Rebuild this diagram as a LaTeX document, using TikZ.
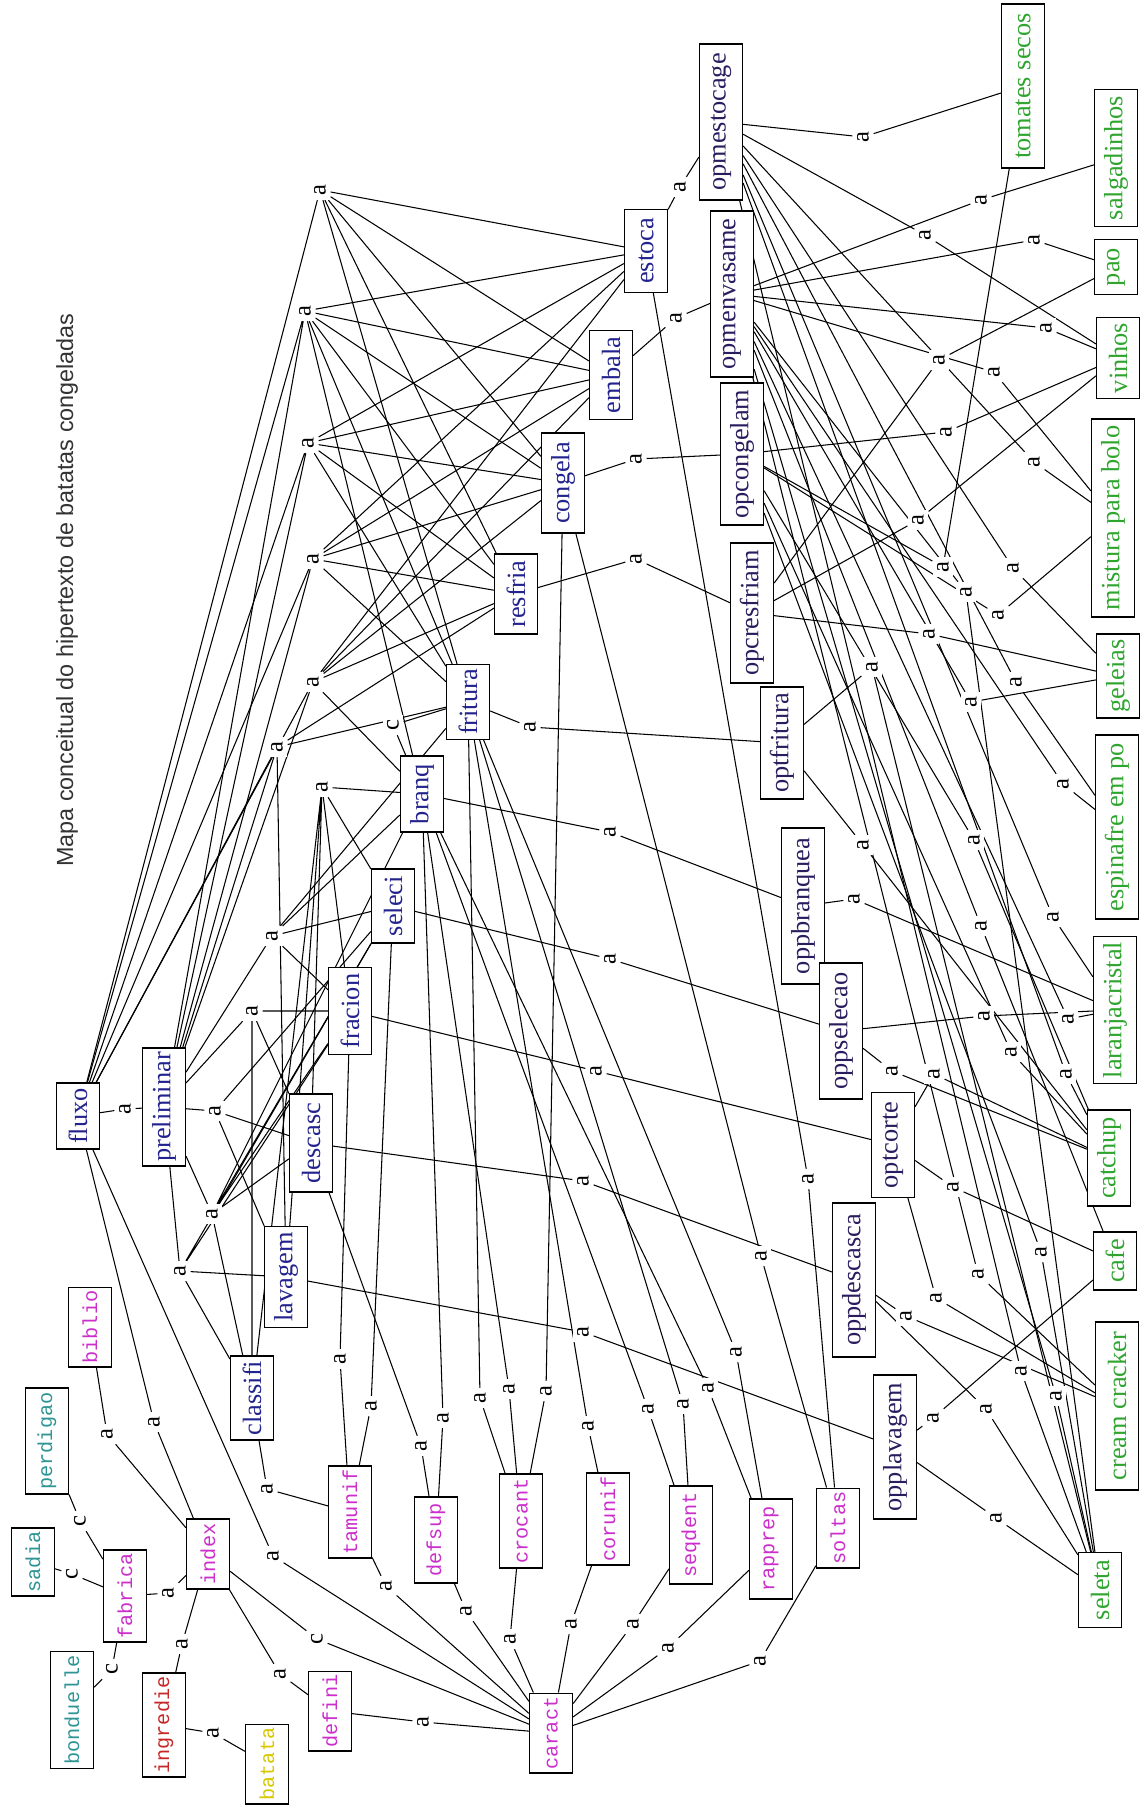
\documentclass[tikz,border=0pt]{standalone}
\usepackage{fontspec}
\setmainfont{Liberation Serif}
\setsansfont{Liberation Sans}
\setmonofont{Liberation Mono}
\usetikzlibrary{backgrounds}
\definecolor{procblue}{HTML}{23238E}
\definecolor{opnavy}{HTML}{2A1C5E}
\definecolor{charpink}{HTML}{CC2ECC}
\definecolor{brandteal}{HTML}{2E9494}
\definecolor{ingredred}{HTML}{C62828}
\definecolor{batyellow}{HTML}{D8C800}
\definecolor{prodgreen}{HTML}{2FA52F}
\tikzset{
    box/.style={rectangle, draw=black, line width=0.7pt, fill=white, rotate=90, minimum height=0.86cm, inner xsep=2pt, inner ysep=1pt, font=\fontsize{15}{17}\selectfont},
    procbox/.style={box, text=procblue},
    opbox/.style={box, text=opnavy},
    prodbox/.style={box, text=prodgreen},
    charbox/.style={box, text=charpink, font=\ttfamily\fontsize{11.5}{13}\selectfont},
    brandbox/.style={charbox, text=brandteal},
    redbox/.style={charbox, text=ingredred},
    yellowbox/.style={charbox, text=batyellow},
    lbl/.style={rotate=90, fill=white, inner sep=2.5pt, font=\fontsize{14}{16}\selectfont},
    link/.style={line width=0.6pt, draw=black}
}

\begin{document}
\begin{tikzpicture}[x=0.02cm, y=-0.02cm]
    \useasboundingbox (0,0) rectangle (1148,1809);
    \node[rotate=90, font=\sffamily\fontsize{13.3}{16}\selectfont, text=black!80] (title) at (67,590) {Mapa conceitual do hipertexto de batatas congeladas};

    % left side
    \node[procbox, minimum width=1.32cm] (fluxo) at (78,1116) {fluxo};
    \node[procbox, minimum width=2.36cm] (prelim) at (164,1107) {preliminar};
    \node[charbox, minimum width=1.44cm] (biblio) at (90,1327) {biblio};
    \node[brandbox, minimum width=2.12cm] (perdigao) at (47,1441) {perdigao};
    \node[brandbox, minimum width=1.36cm] (sadia) at (33,1562) {sadia};
    \node[brandbox, minimum width=2.34cm] (bonduelle) at (72,1710) {bonduelle};
    \node[charbox, minimum width=1.74cm] (fabrica) at (125,1596) {fabrica};
    \node[charbox, minimum width=1.40cm] (index) at (208,1554) {index};
    \node[redbox, minimum width=1.92cm] (ingredie) at (164,1725) {ingredie};
    \node[yellowbox, minimum width=1.58cm] (batata) at (267,1764) {batata};
    \node[charbox, minimum width=1.40cm] (defini) at (330,1711) {defini};

    % process steps
    \node[procbox, minimum width=1.68cm] (classifi) at (252,1398) {classifi};
    \node[procbox, minimum width=2.02cm] (lavagem) at (286,1277) {lavagem};
    \node[procbox, minimum width=1.96cm] (descasc) at (311,1143) {descasc};
    \node[procbox, minimum width=1.74cm] (fracion) at (350,1011) {fracion};
    \node[procbox, minimum width=1.48cm] (seleci) at (393,906) {seleci};
    \node[procbox, minimum width=1.52cm] (branq) at (422,794) {branq};
    \node[procbox, minimum width=1.50cm] (fritura) at (468,702) {fritura};
    \node[procbox, minimum width=1.60cm] (resfria) at (516,594) {resfria};
    \node[procbox, minimum width=2.00cm] (congela) at (563,483) {congela};
    \node[procbox, minimum width=1.78cm] (embala) at (611,375) {embala};
    \node[procbox, minimum width=1.66cm] (estoca) at (646,251) {estoca};

    % characteristics
    \node[charbox, minimum width=1.82cm] (tamunif) at (350,1512) {tamunif};
    \node[charbox, minimum width=1.72cm] (defsup) at (436,1540) {defsup};
    \node[charbox, minimum width=1.88cm] (crocant) at (521,1521) {crocant};
    \node[charbox, minimum width=1.74cm] (corunif) at (608,1519) {corunif};
    \node[charbox, minimum width=1.96cm] (seqdent) at (691,1535) {seqdent};
    \node[charbox, minimum width=2.00cm] (rapprep) at (771,1549) {rapprep};
    \node[charbox, minimum width=1.50cm] (soltas) at (838,1528) {soltas};
    \node[charbox, minimum width=1.58cm] (caract) at (551,1733) {caract};

    % operations
    \node[opbox, minimum width=3.12cm] (opmestoc) at (721,122) {opmestocage};
    \node[opbox, minimum width=3.32cm] (opmenvas) at (732,294) {opmenvasame};
    \node[opbox, minimum width=2.84cm] (opcongel) at (742,454) {opcongelam};
    \node[opbox, minimum width=2.80cm] (opcresf) at (752,613) {opcresfriam};
    \node[opbox, minimum width=2.24cm] (optfrit) at (782,743) {optfritura};
    \node[opbox, minimum width=3.12cm] (oppbranq) at (803,906) {oppbranquea};
    \node[opbox, minimum width=2.72cm] (oppselec) at (841,1031) {oppselecao};
    \node[opbox, minimum width=2.10cm] (optcorte) at (893,1145) {optcorte};
    \node[opbox, minimum width=3.08cm] (oppdesc) at (854,1280) {oppdescasca};
    \node[opbox, minimum width=2.88cm] (opplav) at (895,1447) {opplavagem};

    % products
    \node[prodbox, minimum width=3.28cm] (tomates) at (1023,86) {tomates secos};
    \node[prodbox, minimum width=2.74cm] (salgad) at (1116,158) {salgadinhos};
    \node[prodbox, minimum width=1.10cm] (pao) at (1116,267) {pao};
    \node[prodbox, minimum width=1.62cm] (vinhos) at (1118,358) {vinhos};
    \node[prodbox, minimum width=3.96cm] (mistura) at (1113,518) {mistura para bolo};
    \node[prodbox, minimum width=1.68cm] (geleias) at (1118,676) {geleias};
    \node[prodbox, minimum width=3.68cm] (espinafre) at (1117,827) {espinafre em po};
    \node[prodbox, minimum width=2.94cm] (laranja) at (1115,1010) {laranjacristal};
    \node[prodbox, minimum width=1.92cm] (catchup) at (1109,1158) {catchup};
    \node[prodbox, minimum width=1.16cm] (cafe) at (1115,1261) {cafe};
    \node[prodbox, minimum width=3.36cm] (cream) at (1117,1406) {cream cracker};
    \node[prodbox, minimum width=1.50cm] (seleta) at (1100,1590) {seleta};

    % link labels
    \node[lbl] (a1) at (320,190) {a};
    \node[lbl] (a2) at (305,311) {a};
    \node[lbl] (a3) at (308,443) {a};
    \node[lbl] (a4) at (313,559) {a};
    \node[lbl] (a5) at (313,682) {a};
    \node[lbl] (a6) at (277,747) {a};
    \node[lbl] (a7) at (322,787) {a};
    \node[lbl] (a8) at (125,1109) {a};
    \node[lbl] (a9) at (215,1111) {a};
    \node[lbl] (a10) at (272,936) {a};
    \node[lbl] (a11) at (252,1011) {a};
    \node[lbl] (a12) at (212,1214) {a};
    \node[lbl] (a13) at (180,1271) {a};
    \node[lbl] (a14) at (107,1434) {a};
    \node[lbl] (a15) at (154,1422) {a};
    \node[lbl] (c1) at (80,1521) {c};
    \node[lbl] (c2) at (72,1574) {c};
    \node[lbl] (c3) at (112,1669) {c};
    \node[lbl] (a19) at (168,1593) {a};
    \node[lbl] (a20) at (182,1644) {a};
    \node[lbl] (a21) at (213,1733) {a};
    \node[lbl] (a22) at (267,1489) {a};
    \node[lbl] (a23) at (273,1556) {a};
    \node[lbl] (c4) at (317,1639) {c};
    \node[lbl] (a25) at (280,1674) {a};
    \node[lbl] (a26) at (340,1359) {a};
    \node[lbl] (a27) at (371,1406) {a};
    \node[lbl] (a28) at (421,1446) {a};
    \node[lbl] (a29) at (443,1418) {a};
    \node[lbl] (a30) at (480,1398) {a};
    \node[lbl] (a31) at (509,1389) {a};
    \node[lbl] (a32) at (546,1391) {a};
    \node[lbl] (a33) at (588,1426) {a};
    \node[lbl] (a34) at (648,1409) {a};
    \node[lbl] (a35) at (683,1404) {a};
    \node[lbl] (a36) at (708,1388) {a};
    \node[lbl] (a37) at (386,1586) {a};
    \node[lbl] (a38) at (466,1611) {a};
    \node[lbl] (a39) at (510,1639) {a};
    \node[lbl] (a40) at (571,1624) {a};
    \node[lbl] (a41) at (633,1624) {a};
    \node[lbl] (a42) at (668,1648) {a};
    \node[lbl] (a43) at (760,1661) {a};
    \node[lbl] (a44) at (423,1722) {a};
    \node[lbl] (a45) at (933,1418) {a};
    \node[lbl] (a46) at (986,1409) {a};
    \node[lbl] (a47) at (1021,1371) {a};
    \node[lbl] (a48) at (1056,1396) {a};
    \node[lbl] (a49) at (996,1518) {a};
    \node[lbl] (a50) at (808,1179) {a};
    \node[lbl] (a51) at (892,1071) {a};
    \node[lbl] (a52) at (934,1074) {a};
    \node[lbl] (a53) at (953,1187) {a};
    \node[lbl] (a54) at (906,1316) {a};
    \node[lbl] (a55) at (936,1298) {a};
    \node[lbl] (a56) at (978,1274) {a};
    \node[lbl] (a57) at (1041,1252) {a};
    \node[lbl] (a58) at (984,1016) {a};
    \node[lbl] (a59) at (1011,1052) {a};
    \node[lbl] (a60) at (1068,1019) {a};
    \node[lbl] (a61) at (1066,1074) {a};
    \node[lbl] (a62) at (1053,917) {a};
    \node[lbl] (a63) at (981,926) {a};
    \node[lbl] (a64) at (1034,462) {a};
    \node[lbl] (a65) at (918,520) {a};
    \node[lbl] (a66) at (943,567) {a};
    \node[lbl] (a67) at (1013,568) {a};
    \node[lbl] (a68) at (966,592) {a};
    \node[lbl] (a69) at (998,615) {a};
    \node[lbl] (a70) at (929,634) {a};
    \node[lbl] (a71) at (872,667) {a};
    \node[lbl] (a72) at (971,702) {a};
    \node[lbl] (a73) at (1016,682) {a};
    \node[lbl] (a74) at (1063,784) {a};
    \node[lbl] (a75) at (863,845) {a};
    \node[lbl] (a76) at (974,840) {a};
    \node[lbl] (a77) at (854,899) {a};
    \node[lbl] (a78) at (863,137) {a};
    \node[lbl] (a79) at (981,200) {a};
    \node[lbl] (a80) at (925,235) {a};
    \node[lbl] (a81) at (1034,240) {a};
    \node[lbl] (a82) at (1046,328) {a};
    \node[lbl] (a83) at (939,360) {a};
    \node[lbl] (a84) at (994,372) {a};
    \node[lbl] (a85) at (946,432) {a};
    \node[lbl] (a86) at (680,187) {a};
    \node[lbl] (a87) at (676,318) {a};
    \node[lbl] (a88) at (636,459) {a};
    \node[lbl] (a89) at (636,559) {a};
    \node[lbl] (a90) at (530,727) {a};
    \node[lbl] (a91) at (610,832) {a};
    \node[lbl] (c5) at (393,725) {c};
    \node[lbl] (a93) at (610,959) {a};
    \node[lbl] (a94) at (596,1071) {a};
    \node[lbl] (a95) at (583,1181) {a};
    \node[lbl] (a96) at (583,1332) {a};
    \node[lbl] (a97) at (761,1256) {a};
    \node[lbl] (a98) at (736,1352) {a};

    \begin{scope}[on background layer]
        % fluxo and preliminar to the steps
        \draw[link] (fluxo) -- (a1) (a1) -- (estoca) (a1) -- (embala) (a1) -- (congela) (a1) -- (resfria) (a1) -- (fritura);
        \draw[link] (fluxo) -- (a2) (prelim) -- (a2) (a2) -- (estoca) (a2) -- (embala) (a2) -- (congela) (a2) -- (resfria) (a2) -- (fritura) (a2) -- (branq);
        \draw[link] (fluxo) -- (a3) (prelim) -- (a3) (a3) -- (estoca) (a3) -- (embala) (a3) -- (congela) (a3) -- (resfria) (a3) -- (fritura);
        \draw[link] (fluxo) -- (a4) (prelim) -- (a4) (a4) -- (estoca) (a4) -- (embala) (a4) -- (congela) (a4) -- (resfria) (a4) -- (fritura);
        \draw[link] (fluxo) -- (a5) (prelim) -- (a5) (a5) -- (estoca) (a5) -- (embala) (a5) -- (congela) (a5) -- (resfria) (a5) -- (branq);
        \draw[link] (fluxo) -- (a6) (prelim) -- (a6) (lavagem) -- (a6) (a6) -- (fritura) (a6) -- (resfria);
        \draw[link] (classifi) -- (a7) (lavagem) -- (a7) (descasc) -- (a7) (fracion) -- (a7) (seleci) -- (a7) (a7) -- (branq);
        \draw[link] (fluxo) -- (a8) -- (prelim);
        \draw[link] (prelim) -- (a9) (a9) -- (descasc) (a9) -- (lavagem) (a9) -- (seleci);
        \draw[link] (prelim) -- (a10) (a10) -- (fracion) (a10) -- (seleci) (a10) -- (branq) (a10) -- (fritura);
        \draw[link] (prelim) -- (a11) (a11) -- (classifi) (a11) -- (fracion) (a11) -- (descasc);
        \draw[link] (prelim) -- (a12) (a12) -- (fracion) (a12) -- (seleci) (a12) -- (branq) (a12) -- (descasc) (a12) -- (classifi);
        \draw[link] (prelim) -- (a13) (a13) -- (lavagem) (a13) -- (classifi) (a13) -- (fracion) (a13) -- (seleci);
        % index and brands
        \draw[link] (biblio) -- (a14) -- (index);
        \draw[link] (fluxo) -- (a15) -- (index);
        \draw[link] (perdigao) -- (c1) -- (fabrica);
        \draw[link] (sadia) -- (c2) -- (fabrica);
        \draw[link] (bonduelle) -- (c3) -- (fabrica);
        \draw[link] (fabrica) -- (a19) -- (index);
        \draw[link] (index) -- (a20) -- (ingredie);
        \draw[link] (ingredie) -- (a21) -- (batata);
        \draw[link] (index) -- (a25) -- (defini);
        \draw[link] (index) -- (c4) -- (caract);
        \draw[link] (fluxo) -- (a23) -- (caract);
        % steps to characteristics
        \draw[link] (classifi) -- (a22) -- (tamunif);
        \draw[link] (fracion) -- (a26) -- (tamunif);
        \draw[link] (seleci) -- (a27) -- (tamunif);
        \draw[link] (descasc) -- (a28) -- (defsup);
        \draw[link] (branq) -- (a29) -- (defsup);
        \draw[link] (fritura) -- (a30) -- (crocant);
        \draw[link] (branq) -- (a31) -- (crocant);
        \draw[link] (congela) -- (a32) -- (crocant);
        \draw[link] (fritura) -- (a33) -- (corunif);
        \draw[link] (branq) -- (a34) -- (seqdent);
        \draw[link] (fritura) -- (a35) -- (seqdent);
        \draw[link] (branq) -- (a36) -- (rapprep);
        \draw[link] (fritura) -- (a98) -- (rapprep);
        \draw[link] (congela) -- (a97) -- (soltas);
        \draw[link] (estoca) -- (a50) -- (soltas);
        \draw[link] (branq) -- (c5) -- (fritura);
        % characteristics to caract
        \draw[link] (tamunif) -- (a37) -- (caract);
        \draw[link] (defsup) -- (a38) -- (caract);
        \draw[link] (crocant) -- (a39) -- (caract);
        \draw[link] (corunif) -- (a40) -- (caract);
        \draw[link] (seqdent) -- (a41) -- (caract);
        \draw[link] (rapprep) -- (a42) -- (caract);
        \draw[link] (soltas) -- (a43) -- (caract);
        \draw[link] (defini) -- (a44) -- (caract);
        % steps to operations
        \draw[link] (estoca) -- (a86) -- (opmestoc);
        \draw[link] (embala) -- (a87) -- (opmenvas);
        \draw[link] (congela) -- (a88) -- (opcongel);
        \draw[link] (resfria) -- (a89) -- (opcresf);
        \draw[link] (fritura) -- (a90) -- (optfrit);
        \draw[link] (branq) -- (a91) -- (oppbranq);
        \draw[link] (seleci) -- (a93) -- (oppselec);
        \draw[link] (fracion) -- (a94) -- (optcorte);
        \draw[link] (descasc) -- (a95) -- (oppdesc);
        \draw[link] (lavagem) -- (a96) -- (opplav);
        % operations to products
        \draw[link] (opmestoc) -- (a78) -- (tomates);
        \draw[link] (opmenvas) -- (a79) -- (salgad);
        \draw[link] (opmestoc) -- (a80) -- (vinhos);
        \draw[link] (opmenvas) -- (a81) -- (pao);
        \draw[link] (opmenvas) -- (a82) -- (vinhos);
        \draw[link] (opcresf) -- (a83) -- (pao);
        \draw[link] (opmenvas) -- (a84) -- (mistura);
        \draw[link] (opcongel) -- (a85) -- (vinhos);
        \draw[link] (opmestoc) -- (a64) -- (mistura);
        \draw[link] (opcresf) -- (a65) -- (vinhos);
        \draw[link] (opcongel) -- (a66) -- (tomates);
        \draw[link] (opmestoc) -- (a67) -- (geleias);
        \draw[link] (opmenvas) -- (a68) -- (seleta);
        \draw[link] (opcongel) -- (a69) -- (mistura);
        \draw[link] (opcresf) -- (a70) -- (geleias);
        \draw[link] (optfrit) -- (a71) -- (seleta);
        \draw[link] (opmenvas) -- (a72) -- (geleias);
        \draw[link] (opmestoc) -- (a73) -- (espinafre);
        \draw[link] (opmenvas) -- (a74) -- (espinafre);
        \draw[link] (optfrit) -- (a75) -- (catchup);
        \draw[link] (opcongel) -- (a76) -- (catchup);
        \draw[link] (oppbranq) -- (a77) -- (laranja);
        \draw[link] (opmestoc) -- (a62) -- (laranja);
        \draw[link] (opmenvas) -- (a63) -- (cafe);
        \draw[link] (oppselec) -- (a58) -- (laranja);
        \draw[link] (opcongel) -- (a59) -- (catchup);
        \draw[link] (opmenvas) -- (a60) -- (laranja);
        \draw[link] (opmestoc) -- (a61) -- (catchup);
        \draw[link] (oppselec) -- (a51) -- (catchup);
        \draw[link] (optcorte) -- (a52) -- (catchup);
        \draw[link] (optcorte) -- (a53) -- (cafe);
        \draw[link] (oppdesc) -- (a54) -- (cream);
        \draw[link] (optcorte) -- (a55) -- (cream);
        \draw[link] (opmenvas) -- (a56) -- (cream);
        \draw[link] (opcongel) -- (a57) -- (seleta);
        \draw[link] (opplav) -- (a45) -- (cafe);
        \draw[link] (oppdesc) -- (a46) -- (seleta);
        \draw[link] (opmestoc) -- (a47) -- (seleta);
        \draw[link] (opmenvas) -- (a48) -- (seleta);
        \draw[link] (opplav) -- (a49) -- (seleta);
    \end{scope}
\end{tikzpicture}
\end{document}
